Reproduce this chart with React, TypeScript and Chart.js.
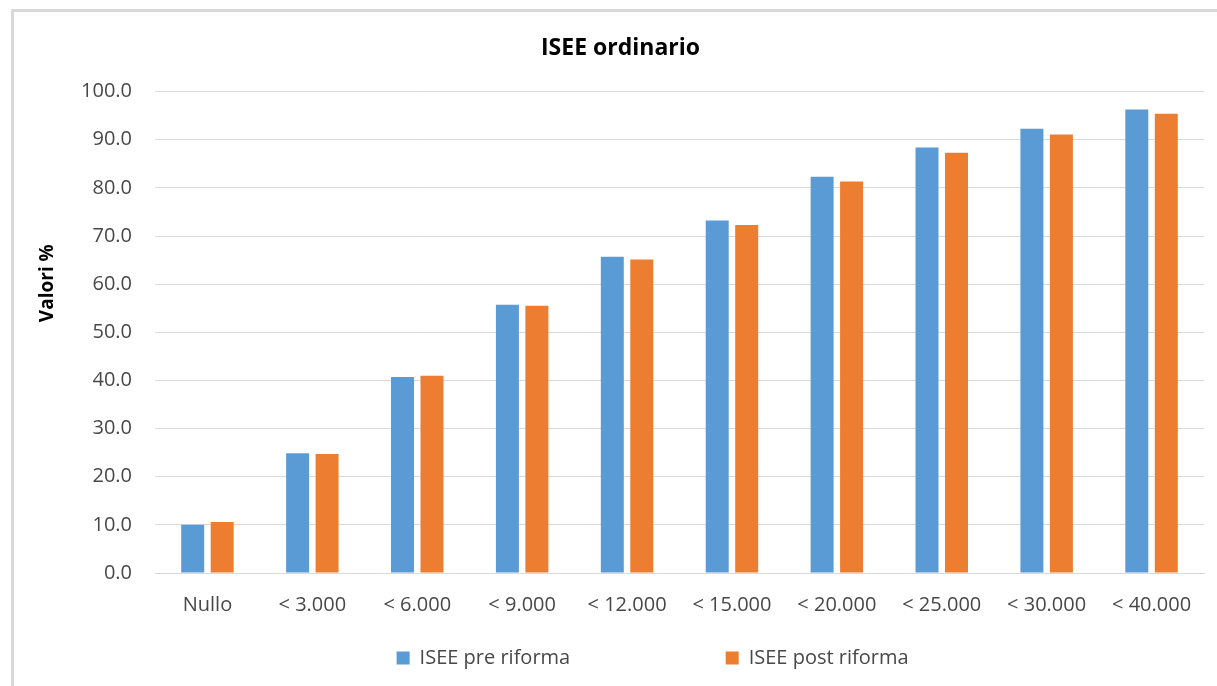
import React, { useEffect, useRef } from 'react';
import { Chart, registerables } from 'chart.js';

Chart.register(...registerables);

const categories = ['Nullo', '< 3.000', '< 6.000', '< 9.000', '< 12.000', '< 15.000', '< 20.000', '< 25.000', '< 30.000', '< 40.000'];
const preRiforma = [10.0, 24.9, 40.7, 55.7, 65.7, 73.2, 82.3, 88.4, 92.3, 96.3];
const postRiforma = [10.6, 24.7, 41.0, 55.5, 65.1, 72.3, 81.3, 87.3, 91.1, 95.4];
const seriesLabels = ['ISEE pre riforma', 'ISEE post riforma'];
const seriesColors = ['#5B9BD5', '#ED7D31'];
const chartTitle = 'ISEE ordinario';
const yAxisTitle = 'Valori %';
const yMin = 0;
const yMax = 100;
const yStep = 10;

const FONT = "'Open Sans', 'Noto Sans', sans-serif";
const TEXT = '#484848';

const yTitlePlugin = {
  id: 'yTitlePlugin',
  afterDraw(chart: any) {
    const { ctx, chartArea } = chart;
    ctx.save();
    ctx.translate(34, chartArea.top + 0.398 * (chartArea.bottom - chartArea.top));
    ctx.rotate(-Math.PI / 2);
    ctx.font = `bold 19px ${FONT}`;
    ctx.fillStyle = '#000000';
    ctx.textAlign = 'center';
    ctx.textBaseline = 'middle';
    ctx.fillText(yAxisTitle, 0, 0);
    ctx.restore();
  },
};

export default function App() {
  const canvasRef = useRef<HTMLCanvasElement | null>(null);

  useEffect(() => {
    if (!canvasRef.current) return;
    const chart = new Chart(canvasRef.current, {
      type: 'bar',
      data: {
        labels: categories,
        datasets: [
          {
            label: seriesLabels[0],
            data: preRiforma,
            backgroundColor: seriesColors[0],
            borderWidth: 0,
            barPercentage: 0.78,
            categoryPercentage: 0.562,
          },
          {
            label: seriesLabels[1],
            data: postRiforma,
            backgroundColor: seriesColors[1],
            borderWidth: 0,
            barPercentage: 0.78,
            categoryPercentage: 0.562,
          },
        ],
      },
      options: {
        animation: false,
        responsive: false,
        maintainAspectRatio: false,
        layout: { padding: { left: 23, right: 13, top: 0, bottom: 8 } },
        plugins: {
          tooltip: { enabled: false },
          title: {
            display: true,
            text: chartTitle,
            color: '#000000',
            font: { family: FONT, size: 23, weight: 'bold', lineHeight: 1.2 },
            padding: { top: 23, bottom: 29 },
          },
          legend: {
            display: true,
            position: 'bottom',
            onClick: () => {},
            labels: {
              boxWidth: 13,
              boxHeight: 13,
              padding: 10,
              color: TEXT,
              font: { family: FONT, size: 20 },
              generateLabels: (c: any) => {
                const items = (Chart.defaults.plugins.legend.labels as any).generateLabels(c);
                items[0].text = items[0].text + ' '.repeat(28);
                const spacer = {
                  text: ' '.repeat(6),
                  fillStyle: 'rgba(0,0,0,0)',
                  strokeStyle: 'rgba(0,0,0,0)',
                  lineWidth: 0,
                  hidden: false,
                };
                return [spacer, ...items];
              },
            },
          },
        },
        scales: {
          x: {
            grid: { display: false },
            border: { display: true, color: '#d9d9d9', width: 1 },
            ticks: {
              color: TEXT,
              font: { family: FONT, size: 20 },
              padding: 12,
              maxRotation: 0,
              autoSkip: false,
            },
            afterFit: (scale: any) => {
              scale.height = 65;
            },
          },
          y: {
            min: yMin,
            max: yMax,
            grid: { color: '#d9d9d9', lineWidth: 1, drawTicks: false },
            border: { display: false },
            ticks: {
              stepSize: yStep,
              color: TEXT,
              font: { family: FONT, size: 20 },
              padding: 23,
              callback: (v: any) => Number(v).toFixed(1),
            },
            afterFit: (scale: any) => {
              scale.width = 118;
            },
          },
        },
      },
      plugins: [yTitlePlugin],
    });
    return () => chart.destroy();
  }, []);

  return (
    <div style={{ position: 'fixed', left: 0, top: 0, right: 0, bottom: 0, overflow: 'hidden', background: '#ffffff' }}>
      <div
        style={{
          position: 'absolute',
          left: 11,
          top: 9,
          width: 1240,
          height: 700,
          borderLeft: '3px solid #d9d9d9',
          borderTop: '3px solid #d9d9d9',
          boxSizing: 'border-box',
        }}
      />
      <canvas
        ref={canvasRef}
        width={1203}
        height={674}
        style={{ position: 'absolute', left: 14, top: 12, width: 1203, height: 674 }}
      />
    </div>
  );
}
